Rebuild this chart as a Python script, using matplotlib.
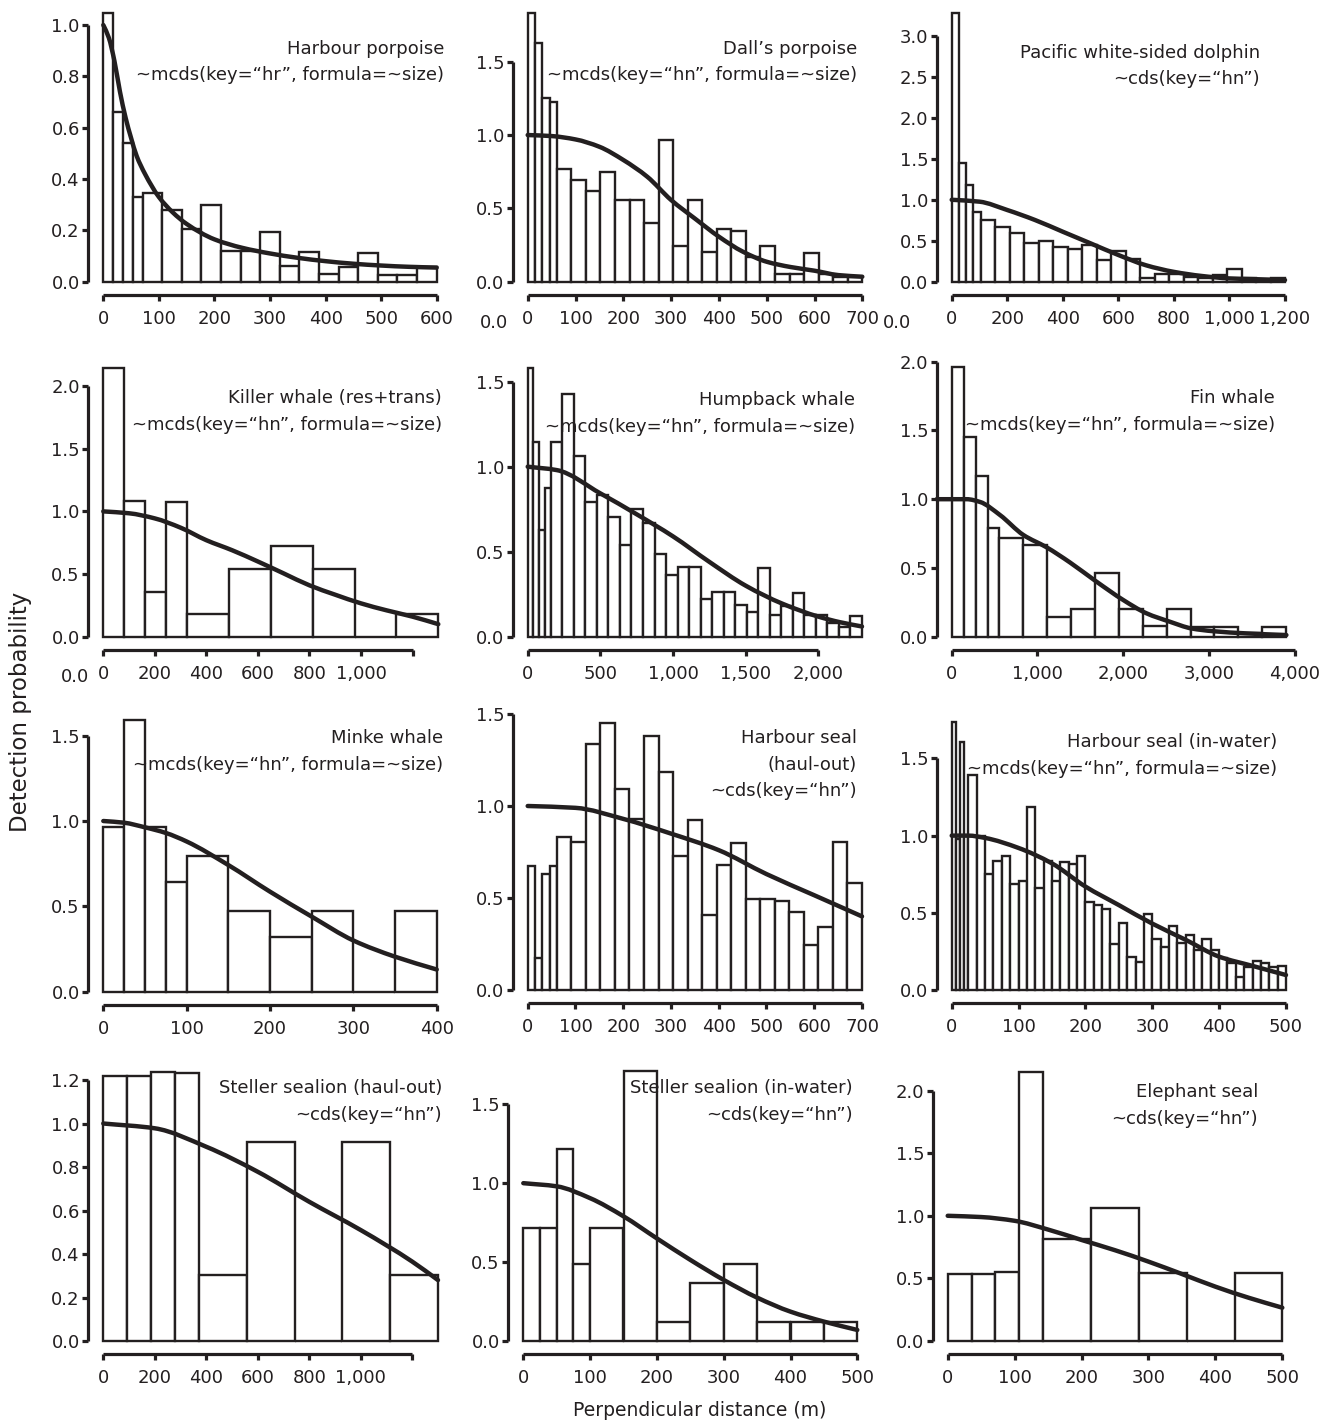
import numpy as np
import matplotlib
matplotlib.use("Agg")
import matplotlib.pyplot as plt
from matplotlib.path import Path
from matplotlib.patches import PathPatch
from matplotlib.ticker import FixedLocator, FixedFormatter

plt.rcParams["font.family"] = ["DejaVu Sans"]
INK = "#231f20"
W, H, DPI = 1328, 1421, 100

# ---------------------------------------------------------------------------
# Scaled histogram heights (first 2 bin-widths split in four half bins)
# ---------------------------------------------------------------------------
hp_trunc, hp_nfull = 600, 15
hp_heights = [1.048, 0.662, 0.54, 0.33, 0.344, 0.28, 0.204, 0.30, 0.12, 0.12,
              0.195, 0.06, 0.117, 0.03, 0.058, 0.11, 0.026, 0.026, 0.058]
hp_curve_x = [0, 10, 20, 30, 40, 50, 60, 75, 100, 125, 150, 200, 250, 300,
              350, 400, 450, 500, 550, 600]
hp_curve_y = [1.0, 0.95, 0.86, 0.74, 0.64, 0.56, 0.49, 0.42, 0.33, 0.27,
              0.225, 0.165, 0.132, 0.11, 0.093, 0.08, 0.07, 0.063, 0.058, 0.055]

dp_trunc, dp_nfull = 700, 21
dp_heights = [1.83, 1.63, 1.255, 1.227, 0.77, 0.69, 0.62, 0.745, 0.56, 0.56,
              0.40, 0.966, 0.245, 0.56, 0.20, 0.357, 0.345, 0.17, 0.243, 0.052,
              0.052, 0.198, 0.05, 0.03, 0.03]
dp_curve_x = [0, 50, 100, 150, 200, 250, 300, 350, 400, 450, 500, 550, 600, 650, 700]
dp_curve_y = [1.0, 0.993, 0.97, 0.92, 0.83, 0.716, 0.557, 0.43, 0.307, 0.205,
              0.136, 0.10, 0.075, 0.045, 0.034]

pw_trunc, pw_nfull = 1200, 21
pw_heights = [3.28, 1.445, 1.18, 0.855, 0.753, 0.672, 0.59, 0.468, 0.50, 0.427,
              0.395, 0.45, 0.26, 0.38, 0.28, 0.05, 0.10, 0.10, 0.06, 0.05,
              0.08, 0.16, 0.04, 0.02, 0.04]
pw_curve_x = [0, 100, 200, 300, 400, 500, 600, 700, 800, 900, 1000, 1100, 1200]
pw_curve_y = [1.0, 0.977, 0.875, 0.753, 0.61, 0.468, 0.326, 0.20, 0.12, 0.07,
              0.04, 0.03, 0.02]

kw_trunc, kw_nfull = 1300, 6
kw_heights = [2.146, 1.082, 0.354, 1.077, 0.184, 0.54, 0.726, 0.54, 0.0, 0.184]
kw_curve_x = [0, 100, 200, 300, 400, 500, 600, 700, 800, 900, 1000, 1100, 1200, 1300]
kw_curve_y = [1.0, 0.985, 0.944, 0.87, 0.77, 0.69, 0.60, 0.505, 0.41, 0.335,
              0.266, 0.21, 0.16, 0.10]

hb_trunc, hb_nfull = 2300, 27
hb_heights = [1.58, 1.147, 0.627, 0.873, 1.143, 1.425, 1.065, 0.794, 0.833, 0.706,
              0.54, 0.75, 0.667, 0.484, 0.363, 0.41, 0.41, 0.22, 0.265, 0.265,
              0.186, 0.143, 0.406, 0.13, 0.18, 0.26, 0.13, 0.13, 0.08, 0.06, 0.124]
hb_curve_x = [0, 200, 500, 750, 1000, 1250, 1500, 1750, 2000, 2150, 2300]
hb_curve_y = [1.0, 0.98, 0.843, 0.72, 0.59, 0.44, 0.30, 0.195, 0.118, 0.085, 0.06]

fw_trunc, fw_nfull = 3900, 12
fw_heights = [1.96, 1.45, 1.17, 0.79, 0.72, 0.667, 0.14, 0.20, 0.46, 0.20,
              0.08, 0.20, 0.073, 0.073, 0.025, 0.073]
fw_curve_x = [-175, 0, 175, 330, 563, 835, 1107, 1379, 1689, 2000, 2272, 2544,
              2796, 3049, 3437, 3903]
fw_curve_y = [1.0, 1.0, 1.0, 0.98, 0.885, 0.74, 0.65, 0.54, 0.40, 0.267, 0.17,
              0.109, 0.06, 0.04, 0.024, 0.012]

mw_trunc, mw_nfull = 400, 6
mw_heights = [0.963, 1.59, 0.963, 0.645, 0.797, 0.475, 0.322, 0.475, 0.0, 0.475]
mw_curve_x = [0, 25, 50, 75, 100, 150, 200, 250, 300, 350, 400]
mw_curve_y = [1.0, 0.99, 0.963, 0.93, 0.88, 0.742, 0.586, 0.44, 0.30, 0.205, 0.13]

hsh_trunc, hsh_nfull = 700, 21
hsh_heights = [0.673, 0.172, 0.63, 0.673, 0.832, 0.805, 1.338, 1.45, 1.094, 0.93,
               1.38, 1.184, 0.729, 0.922, 0.407, 0.678, 0.80, 0.497, 0.497, 0.485,
               0.425, 0.244, 0.344, 0.805, 0.582]
hsh_curve_x = [0, 100, 200, 300, 400, 500, 600, 700]
hsh_curve_y = [1.0, 0.99, 0.93, 0.85, 0.76, 0.63, 0.515, 0.40]

hsw_trunc, hsw_nfull = 500, 38
hsw_heights = [1.736, 0.98, 1.606, 1.0, 1.39, 1.0, 0.753, 0.838, 0.866, 0.688,
               0.703, 1.184, 0.66, 0.833, 0.703, 0.827, 0.818, 0.87, 0.567, 0.552,
               0.526, 0.30, 0.433, 0.216, 0.184, 0.494, 0.33, 0.28, 0.416, 0.303,
               0.357, 0.26, 0.331, 0.26, 0.206, 0.173, 0.087, 0.15, 0.19, 0.173,
               0.15, 0.156]
hsw_curve_x = [0, 25, 50, 100, 150, 200, 250, 300, 350, 400, 450, 500]
hsw_curve_y = [1.0, 1.0, 0.985, 0.92, 0.82, 0.67, 0.55, 0.43, 0.325, 0.216,
               0.156, 0.097]

ssh_trunc, ssh_nfull = 1300, 5
ssh_heights = [1.218, 1.218, 1.235, 1.23, 0.303, 0.913, 0.0, 0.916, 0.303]
ssh_curve_x = [0, 200, 400, 600, 800, 1000, 1200, 1300]
ssh_curve_y = [1.0, 0.978, 0.893, 0.778, 0.64, 0.51, 0.365, 0.28]

ssw_trunc, ssw_nfull = 500, 8
ssw_heights = [0.719, 0.719, 1.218, 0.486, 0.719, 1.712, 0.123, 0.366, 0.488,
               0.123, 0.123, 0.123]
ssw_curve_x = [0, 50, 100, 150, 200, 250, 300, 350, 400, 450, 500]
ssw_curve_y = [1.0, 0.98, 0.905, 0.79, 0.65, 0.514, 0.387, 0.275, 0.186, 0.123, 0.07]

es_trunc, es_nfull = 500, 5
es_heights = [0.533, 0.533, 0.554, 2.146, 0.815, 1.065, 0.54, 0.0, 0.54]
es_curve_x = [0, 50, 100, 150, 200, 250, 300, 350, 400, 450, 500]
es_curve_y = [1.0, 0.99, 0.96, 0.89, 0.807, 0.725, 0.634, 0.535, 0.434, 0.345, 0.266]

# ---------------------------------------------------------------------------
# Titles and tick labels
# ---------------------------------------------------------------------------
titles = [
    ["Harbour porpoise", "~mcds(key=\u201chr\u201d, formula=~size)"],
    ["Dall\u2019s porpoise", "~mcds(key=\u201chn\u201d, formula=~size)"],
    ["Pacific white-sided dolphin", "~cds(key=\u201chn\u201d)"],
    ["Killer whale (res+trans)", "~mcds(key=\u201chn\u201d, formula=~size)"],
    ["Humpback whale", "~mcds(key=\u201chn\u201d, formula=~size)"],
    ["Fin whale", "~mcds(key=\u201chn\u201d, formula=~size)"],
    ["Minke whale", "~mcds(key=\u201chn\u201d, formula=~size)"],
    ["Harbour seal", "(haul-out)", "~cds(key=\u201chn\u201d)"],
    ["Harbour seal (in-water)", "~mcds(key=\u201chn\u201d, formula=~size)"],
    ["Steller sealion (haul-out)", "~cds(key=\u201chn\u201d)"],
    ["Steller sealion (in-water)", "~cds(key=\u201chn\u201d)"],
    ["Elephant seal", "~cds(key=\u201chn\u201d)"],
]

xticks = [
    [0, 100, 200, 300, 400, 500, 600],
    [0, 100, 200, 300, 400, 500, 600, 700],
    [0, 200, 400, 600, 800, 1000, 1200],
    [0, 200, 400, 600, 800, 1000, 1200],
    [0, 500, 1000, 1500, 2000],
    [0, 1000, 2000, 3000, 4000],
    [0, 100, 200, 300, 400],
    [0, 100, 200, 300, 400, 500, 600, 700],
    [0, 100, 200, 300, 400, 500],
    [0, 200, 400, 600, 800, 1000, 1200],
    [0, 100, 200, 300, 400, 500],
    [0, 100, 200, 300, 400, 500],
]
xtick_unlabelled = [[], [], [], [1200], [], [], [], [], [], [1200], [], []]

yticks = [
    [0.0, 0.2, 0.4, 0.6, 0.8, 1.0],
    [0.0, 0.5, 1.0, 1.5],
    [0.0, 0.5, 1.0, 1.5, 2.0, 2.5, 3.0],
    [0.0, 0.5, 1.0, 1.5, 2.0],
    [0.0, 0.5, 1.0, 1.5],
    [0.0, 0.5, 1.0, 1.5, 2.0],
    [0.0, 0.5, 1.0, 1.5],
    [0.0, 0.5, 1.0, 1.5],
    [0.0, 0.5, 1.0, 1.5],
    [0.0, 0.2, 0.4, 0.6, 0.8, 1.0, 1.2],
    [0.0, 0.5, 1.0, 1.5],
    [0.0, 0.5, 1.0, 1.5, 2.0],
]

panels_data = [
    (hp_trunc, hp_nfull, hp_heights, hp_curve_x, hp_curve_y),
    (dp_trunc, dp_nfull, dp_heights, dp_curve_x, dp_curve_y),
    (pw_trunc, pw_nfull, pw_heights, pw_curve_x, pw_curve_y),
    (kw_trunc, kw_nfull, kw_heights, kw_curve_x, kw_curve_y),
    (hb_trunc, hb_nfull, hb_heights, hb_curve_x, hb_curve_y),
    (fw_trunc, fw_nfull, fw_heights, fw_curve_x, fw_curve_y),
    (mw_trunc, mw_nfull, mw_heights, mw_curve_x, mw_curve_y),
    (hsh_trunc, hsh_nfull, hsh_heights, hsh_curve_x, hsh_curve_y),
    (hsw_trunc, hsw_nfull, hsw_heights, hsw_curve_x, hsw_curve_y),
    (ssh_trunc, ssh_nfull, ssh_heights, ssh_curve_x, ssh_curve_y),
    (ssw_trunc, ssw_nfull, ssw_heights, ssw_curve_x, ssw_curve_y),
    (es_trunc, es_nfull, es_heights, es_curve_x, es_curve_y),
]

# ---------------------------------------------------------------------------
# Layout (pixels): axes box left, top, right, bottom; y upper limit; x upper limit
# ---------------------------------------------------------------------------
frames = [
    (103.3, 12.7, 436.7, 281.7), (527.7, 13.3, 862.3, 281.7), (951.7, 13.0, 1285.0, 281.7),
    (103.3, 367.8, 438.3, 636.7), (527.7, 368.1, 862.0, 636.7), (951.7, 361.7, 1294.7, 636.7),
    (103.3, 720.3, 436.7, 991.7), (527.7, 714.0, 862.0, 990.0), (951.7, 722.0, 1286.0, 990.0),
    (103.3, 1072.4, 438.0, 1341.0), (523.3, 1070.8, 857.3, 1341.0), (947.7, 1072.3, 1282.3, 1341.0),
]
ylim_top = [1.048, 1.83, 3.28, 2.146, 1.58, 2.0, 1.59, 1.5, 1.736, 1.235, 1.712, 2.146]
xlim_top = [600, 700, 1200, 1300, 2300, 4000, 400, 700, 500, 1300, 500, 500]
title_pos = [
    (444, 49), (857, 49), (1260, 53),
    (442, 398), (855, 400), (1275, 398),
    (443, 738), (857, 738), (1277, 742),
    (442, 1088), (853, 1088), (1258, 1092),
]
LINE_STEP = 26.5


def breaks(trunc, n_full):
    w = trunc / (n_full + 2)
    return np.r_[np.arange(4) * w / 2, 2 * w + np.arange(n_full + 1) * w]


def fmt_thousands(v):
    return f"{v:,.0f}"


def smooth_path(x, y):
    """Monotone cubic (Hermite) path through the points, as Bezier segments."""
    x = np.asarray(x, float)
    y = np.asarray(y, float)
    h = np.diff(x)
    d = np.diff(y) / h
    m = np.zeros_like(y)
    m[0], m[-1] = d[0], d[-1]
    for k in range(1, len(x) - 1):
        if d[k - 1] * d[k] <= 0:
            m[k] = 0.0
        else:
            w1 = 2 * h[k] + h[k - 1]
            w2 = h[k] + 2 * h[k - 1]
            m[k] = (w1 + w2) / (w1 / d[k - 1] + w2 / d[k])
    verts = [(x[0], y[0])]
    codes = [Path.MOVETO]
    for k in range(len(x) - 1):
        verts += [(x[k] + h[k] / 3, y[k] + m[k] * h[k] / 3),
                  (x[k + 1] - h[k] / 3, y[k + 1] - m[k + 1] * h[k] / 3),
                  (x[k + 1], y[k + 1])]
        codes += [Path.CURVE4] * 3
    return Path(verts, codes)


fig = plt.figure(figsize=(W / DPI, H / DPI), dpi=DPI)
fig.patch.set_facecolor("white")

for i, (trunc, nfull, heights, cx, cy) in enumerate(panels_data):
    l, t, r, b = frames[i]
    ax = fig.add_axes([l / W, 1 - b / H, (r - l) / W, (b - t) / H])
    ax.set_xlim(0, xlim_top[i])
    ax.set_ylim(0, ylim_top[i])
    ax.patch.set_alpha(0)

    edges = breaks(trunc, nfull)
    ax.bar(edges[:-1], heights, width=np.diff(edges), align="edge",
           color="white", edgecolor=INK, linewidth=1.7, clip_on=False, zorder=2)
    ax.add_patch(PathPatch(smooth_path(cx, cy), facecolor="none", edgecolor=INK,
                           lw=3.2, capstyle="round", joinstyle="round",
                           clip_on=False, zorder=3))

    for s in ("top", "right"):
        ax.spines[s].set_visible(False)
    ax.spines["left"].set_position(("outward", 10.8))
    ax.spines["bottom"].set_position(("outward", 9.4))
    for s in ("left", "bottom"):
        ax.spines[s].set_linewidth(2.3)
        ax.spines[s].set_color(INK)
        ax.spines[s].set_capstyle("butt")
    ax.spines["left"].set_bounds(0, yticks[i][-1])
    ax.spines["bottom"].set_bounds(0, xticks[i][-1])

    ax.xaxis.set_major_locator(FixedLocator(xticks[i]))
    ax.xaxis.set_major_formatter(FixedFormatter(
        ["" if v in xtick_unlabelled[i] else fmt_thousands(v) for v in xticks[i]]))
    ax.yaxis.set_major_locator(FixedLocator(yticks[i]))
    ax.yaxis.set_major_formatter(FixedFormatter([f"{v:.1f}" for v in yticks[i]]))
    ax.tick_params(axis="x", direction="out", length=4.0, width=2.3, pad=7.0,
                   labelsize=13, colors=INK)
    ax.tick_params(axis="y", direction="out", length=4.6, width=2.3, pad=1.5,
                   labelsize=13, colors=INK)

    tx, ty = title_pos[i]
    for k, line in enumerate(titles[i]):
        fig.text(tx / W, 1 - (ty + k * LINE_STEP) / H, line, ha="right",
                 va="center", fontsize=13, color=INK)

# stray zero labels printed between panels
for sx, sy in [(494, 323), (897, 323), (75, 677)]:
    fig.text(sx / W, 1 - sy / H, "0.0", ha="center", va="center",
             fontsize=13, color=INK)

fig.text(700 / W, 1 - 1410 / H, "Perpendicular distance (m)", ha="center",
         va="center", fontsize=13.5, color=INK)
fig.text(21 / W, 1 - 712 / H, "Detection probability", ha="center",
         va="center", rotation=90, fontsize=16.5, color=INK)

fig.savefig("out.png", dpi=DPI, facecolor="white")
